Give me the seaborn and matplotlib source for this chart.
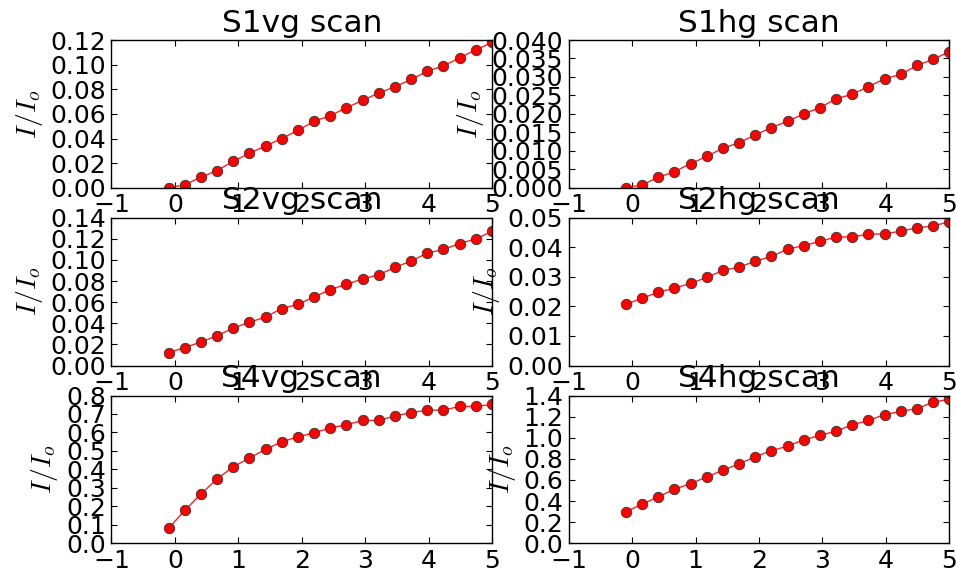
import numpy as np
import pandas as pd
import matplotlib
matplotlib.use("Agg")
import matplotlib.pyplot as plt
import seaborn as sns

# positions of the scan points
x_pos = [-0.10, 0.155, 0.41, 0.665, 0.92, 1.175, 1.43, 1.685, 1.94, 2.195, 2.45,
         2.705, 2.96, 3.215, 3.47, 3.725, 3.98, 4.235, 4.49, 4.745, 5.0]

titles = ["S1vg scan", "S1hg scan", "S2vg scan", "S2hg scan", "S4vg scan", "S4hg scan"]

s1vg = [0.0, 0.0025, 0.0085, 0.014, 0.0215, 0.028, 0.034, 0.040, 0.0466, 0.054, 0.0586,
        0.065, 0.071, 0.077, 0.082, 0.088, 0.0946, 0.099, 0.1055, 0.112, 0.118]
s1hg = [0.0, 0.0008, 0.0028, 0.0044, 0.0065, 0.0085, 0.0107, 0.0122, 0.0143, 0.0163, 0.018,
        0.020, 0.0217, 0.0241, 0.0253, 0.0274, 0.0295, 0.0307, 0.0331, 0.0348, 0.0368]
s2vg = [0.0123, 0.017, 0.0223, 0.0283, 0.0355, 0.041, 0.046, 0.054, 0.058, 0.065, 0.072,
        0.077, 0.082, 0.086, 0.093, 0.099, 0.1065, 0.110, 0.1156, 0.120, 0.127]
s2hg = [0.0207, 0.0228, 0.0248, 0.0262, 0.0278, 0.0298, 0.0322, 0.0333, 0.0353, 0.0369, 0.0394,
        0.0406, 0.042, 0.0435, 0.0435, 0.0445, 0.0445, 0.0455, 0.0466, 0.0472, 0.0487]
s4vg = [0.081, 0.178, 0.266, 0.349, 0.414, 0.462, 0.509, 0.550, 0.576, 0.599, 0.624,
        0.642, 0.665, 0.665, 0.690, 0.707, 0.721, 0.721, 0.741, 0.741, 0.752]
s4hg = [0.299, 0.371, 0.440, 0.512, 0.566, 0.629, 0.692, 0.752, 0.821, 0.877, 0.921,
        0.981, 1.022, 1.063, 1.123, 1.164, 1.220, 1.249, 1.277, 1.337, 1.365]

series = [s1vg, s1hg, s2vg, s2hg, s4vg, s4hg]
y_max = [0.12, 0.04, 0.14, 0.05, 0.8, 1.4]
y_step = [0.02, 0.005, 0.02, 0.01, 0.1, 0.2]
y_fmt = ["%.2f", "%.3f", "%.2f", "%.2f", "%.1f", "%.1f"]
x_ticks = [-1, 0, 1, 2, 3, 4, 5]
ylabel = r"$I/I_o$"

sns.set_theme(style="ticks")
plt.rcParams.update({
    "font.family": ["DejaVu Sans"],
    "mathtext.fontset": "cm",
    "xtick.direction": "in",
    "ytick.direction": "in",
    "xtick.top": True,
    "ytick.right": True,
    "xtick.major.size": 4.5,
    "ytick.major.size": 4.5,
    "axes.edgecolor": "black",
    "axes.linewidth": 1.0,
    "xtick.color": "black",
    "ytick.color": "black",
    "text.color": "black",
    "axes.labelcolor": "black",
})

fig, axes = plt.subplots(3, 2, figsize=(9.56, 5.74), dpi=100)
fig.subplots_adjust(left=0.1166, right=0.993, bottom=0.0535, top=0.9303,
                    wspace=0.2018, hspace=0.203)

for i, ax in enumerate(axes.flat):
    df = pd.DataFrame({"x": x_pos, "y": series[i]})
    sns.lineplot(data=df, x="x", y="y", ax=ax, color="#ff2020", linewidth=1.0,
                 marker="o", markersize=7.5, markeredgecolor="#333333",
                 markeredgewidth=0.6, markerfacecolor="red", sort=False)
    ax.set_xlim(-1, 5)
    ax.set_ylim(0, y_max[i])
    ax.set_xticks(x_ticks)
    ax.set_yticks(np.arange(0, y_max[i] + y_step[i] / 2, y_step[i]))
    ax.yaxis.set_major_formatter(matplotlib.ticker.FormatStrFormatter(y_fmt[i]))
    ax.tick_params(labelsize=18, pad=4, width=0.8)
    ax.set_xlabel("")
    ax.set_ylabel(ylabel, fontsize=20, labelpad=4)
    ax.set_title(titles[i], fontsize=22.5, pad=6)
    ax.set_facecolor("white")

fig.savefig("out.png", dpi=100, facecolor="white")
